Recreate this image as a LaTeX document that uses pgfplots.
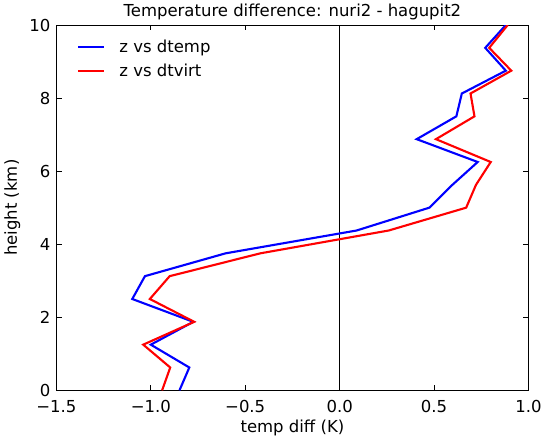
\documentclass[border=0pt]{standalone}
\usepackage{pgfplots}
\pgfplotsset{compat=1.18}
\usepackage{fontspec}
\setmainfont{DejaVu Sans}
\pgfplotstableread{
z dtemp dtvirt
0.000 -0.848 -0.940
0.625 -0.796 -0.897
1.250 -1.000 -1.040
1.875 -0.775 -0.770
2.500 -1.098 -1.005
3.125 -1.031 -0.900
3.750 -0.604 -0.420
4.375 0.090 0.260
5.000 0.475 0.670
5.625 0.597 0.722
6.250 0.731 0.800
6.875 0.408 0.510
7.500 0.618 0.714
8.125 0.647 0.693
8.750 0.880 0.909
9.375 0.771 0.792
10.000 0.880 0.890
}\data
\begin{document}
\begin{tikzpicture}
\begin{axis}[
  scale only axis,
  width=358pt, height=277pt,
  xmin=-1.5, xmax=1.0, ymin=0, ymax=10,
  xtick={-1.5,-1.0,-0.5,0.0,0.5,1.0},
  xticklabels={−1.5,−1.0,−0.5,0.0,0.5,1.0},
  ytick={0,2,4,6,8,10},
  yticklabels={0,2,4,6,8,10},
  tick align=inside,
  major tick length=4pt,
  axis line style={line width=0.75pt},
  every tick/.style={black, line width=0.6pt},
  font=\fontsize{12.5}{14.5}\selectfont,
  tick label style={font=\fontsize{12.5}{14.5}\selectfont},
  xticklabel style={yshift=-4pt},
  yticklabel style={xshift=-1pt},
  xlabel={temp diff (K)},
  ylabel={height (km)},
  title={Temperature difference: nuri2 - hagupit2},
  title style={yshift=-6pt},
  xlabel style={yshift=1pt},
  legend style={draw=none, fill=none, at={(0.035,0.975)}, anchor=north west,
    font=\fontsize{12.5}{14.5}\selectfont, row sep=3.5pt,
    /tikz/every odd column/.append style={column sep=9pt}},
  legend cell align=left,
  legend image code/.code={\draw[#1] (0pt,0pt) -- (19.5pt,0pt);},
]
\addplot[forget plot, black, line width=0.75pt] coordinates {(0,0) (0,10)};
\addplot[blue, line width=1.6pt, mark=none] table[x=dtemp, y=z] {\data};
\addlegendentry{z vs dtemp}
\addplot[red, line width=1.6pt, mark=none] table[x=dtvirt, y=z] {\data};
\addlegendentry{z vs dtvirt}
\end{axis}
\end{tikzpicture}
\end{document}
